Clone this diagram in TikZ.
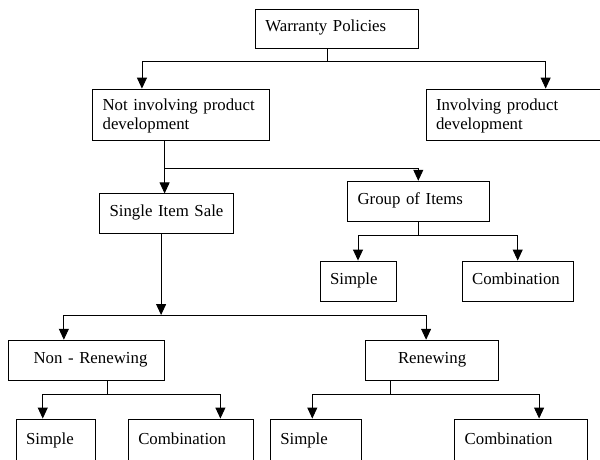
\documentclass[tikz,border=0pt]{standalone}
\usepackage{fontspec}
\setmainfont{Liberation Serif}
\usetikzlibrary{arrows.meta}

\begin{document}
\begin{tikzpicture}[x=1pt,y=-1pt,line width=0.9pt]
        \tikzstyle{box}=[draw, inner xsep=10pt, inner ysep=0pt, align=left, text height=13pt, text depth=7pt, minimum height=40pt, font=\fontsize{16.8}{19}\selectfont]
        \tikzstyle{arr}=[-{Triangle[length=11pt,width=10pt]}]
        \useasboundingbox (0,0) rectangle (600,460);
        \clip (0,0) rectangle (600,460);
        \node [box, text width=143pt, minimum height=39pt] (warr) at (336.8,28.8) {Warranty Policies};
        \node [box, text width=157.2pt, minimum height=51.7pt, text depth=21pt] (notinv) at (181.2,114.9) {Not involving product\\development};
        \node [box, text width=159pt, minimum height=51.7pt, text depth=21pt] (inv) at (515.5,114.9) {Involving product\\development};
        \node [box, text width=114.3pt] (single) at (166.7,213.9) {Single Item Sale};
        \node [box, text width=121.5pt] (group) at (418.3,201.2) {Group of Items};
        \node [box, text width=56pt] (gsimple) at (358,281) {Simple};
        \node [box, text width=91.3pt] (gcomb) at (517.7,281) {Combination};
        \node [box, text width=136.2pt, align=center] (nonren) at (86.5,360.2) {\hspace*{8pt}Non - Renewing};
        \node [box, text width=113.2pt, align=center] (ren) at (432.1,360.2) {Renewing};
        \node [box, text width=59.6pt, minimum height=44pt] (nsimple) at (55.9,441) {Simple};
        \node [box, text width=105.5pt, minimum height=44pt] (ncomb) at (191,441) {Combination};
        \node [box, text width=70.7pt, minimum height=44pt] (rsimple) at (315.6,441) {Simple};
        \node [box, text width=112.7pt, minimum height=44pt] (rcomb) at (521,441) {Combination};
        % warranty policies
        \coordinate (j0) at (327.2,61.7);
        \draw (warr.south -| j0) -- (j0);
        \draw [arr] (j0) -| ([xshift=49.8pt]notinv.north west);
        \draw [arr] (j0) -| ([xshift=120.1pt]inv.north west);
        % not involving
        \coordinate (j1) at (164.6,168);
        \draw (notinv.south -| j1) -- (j1);
        \draw [arr] (j1) -- (single.north -| j1);
        \draw [arr] (j1) -| (group.north);
        % group of items
        \coordinate (j2) at (418.3,235);
        \draw (group.south) -- (j2);
        \draw [arr] (j2) -| (gsimple.north);
        \draw [arr] (j2) -| (gcomb.north);
        % single item
        \coordinate (j3) at (161.1,315);
        \draw [arr] (single.south -| j3) -- (j3);
        \draw [arr] (j3) -| ([xshift=55.9pt]nonren.north west);
        \draw [arr] (j3) -| ([xshift=-6pt]ren.north);
        % non-renewing and renewing
        \coordinate (j4) at (107.2,394);
        \draw (nonren.south -| j4) -- (j4);
        \draw [arr] (j4) -| ([xshift=27.1pt]nsimple.north west);
        \draw [arr] (j4) -| ([xshift=92.6pt]ncomb.north west);
        \coordinate (j5) at (390.4,394);
        \draw (ren.south -| j5) -- (j5);
        \draw [arr] (j5) -| ([xshift=42.5pt]rsimple.north west);
        \draw [arr] (j5) -| ([xshift=84.9pt]rcomb.north west);
\end{tikzpicture}
\end{document}
